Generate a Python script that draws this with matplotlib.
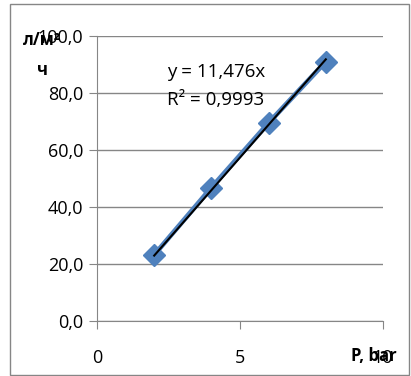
import matplotlib.pyplot as plt
import numpy as np
from matplotlib.patches import Rectangle

# pressure, bar  vs flux
pressure = [2, 4, 6, 8]
flux = [23.2, 46.8, 69.5, 91.0]
slope = 11.476
r2 = "0,9993"
y_ticks = [0, 20, 40, 60, 80, 100]
x_ticks = [0, 5, 10]

plt.rcParams['font.family'] = ['Open Sans', 'DejaVu Sans']

fig = plt.figure(figsize=(4.11, 3.76), dpi=100)
ax = fig.add_axes([97/411, 1 - 321/376, 286/411, 285/376])

fig.patches.append(Rectangle((10/411, 1/376), 399/411, 371/376, transform=fig.transFigure,
                             fill=False, edgecolor='#868686', linewidth=1))

ax.plot(pressure, flux, color='#4F81BD', linewidth=3.5, marker='D', markersize=11, zorder=3)
xs = np.array([pressure[0], pressure[-1]])
ax.plot(xs, slope * xs, color='black', linewidth=1.5, zorder=4)

ax.set_xlim(0, 10)
ax.set_ylim(0, 100)
ax.set_yticks(y_ticks)
ax.set_yticklabels([f"{v:.1f}".replace('.', ',') for v in y_ticks])
ax.set_xticks(x_ticks)
ax.set_xticklabels([str(v) for v in x_ticks])
ax.yaxis.grid(True, color='#868686', linewidth=1)
ax.set_axisbelow(True)

for s in ['top', 'right']:
    ax.spines[s].set_visible(False)
for s in ['left', 'bottom']:
    ax.spines[s].set_color('#868686')
ax.tick_params(axis='y', length=6, color='#868686', labelsize=13, pad=4)
ax.tick_params(axis='x', length=6, color='#868686', labelsize=13, pad=14)

ax.text(2.45, 87.5, f"y = {str(slope).replace('.', ',')}x", fontsize=13.5, va='center')
ax.text(2.45, 77.5, f"R² = {r2}", fontsize=13.5, va='center')

fig.text(42/411, 1 - 40/376, "л/м²", fontsize=12, fontweight='bold', ha='center', va='center')
fig.text(42/411, 1 - 70/376, "ч", fontsize=12, fontweight='bold', ha='center', va='center')
fig.text(374/411, 1 - 356/376, "P, bar", fontsize=12, fontweight='bold', ha='center', va='center')

fig.savefig('out.png', dpi=100)
